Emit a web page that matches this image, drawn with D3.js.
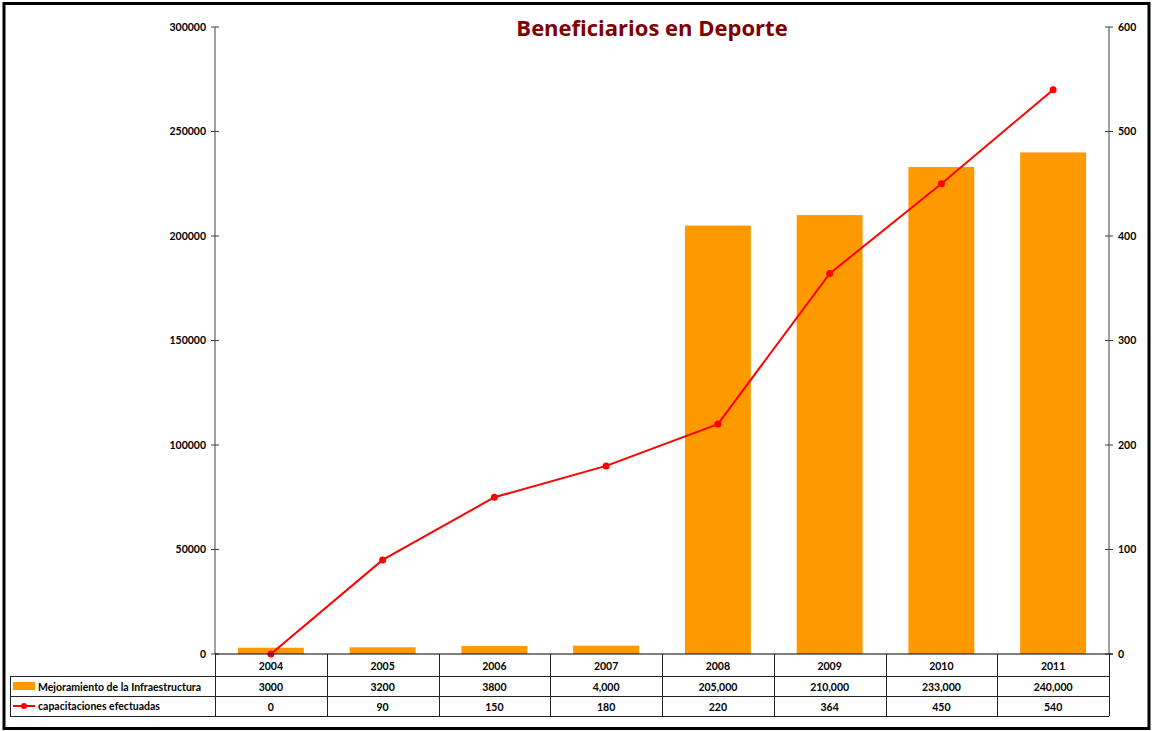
<!DOCTYPE html>
<html>
<head>
<meta charset="utf-8">
<script src="https://cdn.jsdelivr.net/npm/d3@7"></script>
<style>
  body { margin: 0; background: #fff; }
  svg text { font-family: Lato, "Open Sans", sans-serif; font-weight: bold; }
  svg text.title { font-family: "Open Sans", "Noto Sans", sans-serif; }
</style>
</head>
<body>
<svg id="chart"></svg>
<script>
// Data
const years = ["2004", "2005", "2006", "2007", "2008", "2009", "2010", "2011"];
const infraestructura = [3000, 3200, 3800, 4000, 205000, 210000, 233000, 240000];
const capacitaciones = [0, 90, 150, 180, 220, 364, 450, 540];
const infraLabels = ["3000", "3200", "3800", "4,000", "205,000", "210,000", "233,000", "240,000"];
const capLabels = ["0", "90", "150", "180", "220", "364", "450", "540"];
const leftTicks = [0, 50000, 100000, 150000, 200000, 250000, 300000];
const rightTicks = [0, 100, 200, 300, 400, 500, 600];

const width = 1152, height = 731;
const svg = d3.select("#chart").attr("width", width).attr("height", height);

// plot area
const plotL = 215, plotR = 1109, plotT = 27, plotB = 654;

const x = d3.scaleBand().domain(years).range([plotL, plotR]).paddingInner(0).paddingOuter(0);
const yL = d3.scaleLinear().domain([0, 300000]).range([plotB, plotT]);
const yR = d3.scaleLinear().domain([0, 600]).range([plotB, plotT]);

// outer frame
svg.append("rect")
  .attr("x", 4).attr("y", 3.5)
  .attr("width", width - 7).attr("height", height - 6)
  .style("fill", "none").style("stroke", "#000").style("stroke-width", 3);

// bars
const barW = x.bandwidth() * 0.59;
svg.append("g").selectAll("rect")
  .data(years)
  .enter().append("rect")
  .attr("x", (d) => x(d) + (x.bandwidth() - barW) / 2)
  .attr("y", (d, i) => yL(infraestructura[i]))
  .attr("width", barW)
  .attr("height", (d, i) => plotB - yL(infraestructura[i]))
  .style("fill", "#FF9900");

// left axis
const gl = svg.append("g");
gl.append("line")
  .attr("x1", plotL).attr("x2", plotL).attr("y1", plotT).attr("y2", plotB)
  .style("stroke", "#808080").style("stroke-width", 1.5);
gl.selectAll(".tl").data(leftTicks).enter().append("line")
  .attr("x1", plotL - 4).attr("x2", plotL + 4)
  .attr("y1", (d) => yL(d)).attr("y2", (d) => yL(d))
  .style("stroke", "#404040").style("stroke-width", 1);
gl.selectAll("text").data(leftTicks).enter().append("text")
  .attr("x", plotL - 9).attr("y", (d) => yL(d)).attr("dy", "0.35em")
  .attr("text-anchor", "end").style("font-size", "10.5px")
  .text((d) => d);

// right axis
const gr = svg.append("g");
gr.append("line")
  .attr("x1", plotR).attr("x2", plotR).attr("y1", plotT).attr("y2", plotB)
  .style("stroke", "#404040").style("stroke-width", 1);
gr.selectAll(".tr").data(rightTicks).enter().append("line")
  .attr("x1", plotR - 4).attr("x2", plotR + 4)
  .attr("y1", (d) => yR(d)).attr("y2", (d) => yR(d))
  .style("stroke", "#404040").style("stroke-width", 1);
gr.selectAll("text").data(rightTicks).enter().append("text")
  .attr("x", plotR + 9).attr("y", (d) => yR(d)).attr("dy", "0.35em")
  .attr("text-anchor", "start").style("font-size", "10.5px")
  .text((d) => d);

// line series
const line = d3.line()
  .x((d, i) => x(years[i]) + x.bandwidth() / 2)
  .y((d) => yR(d));
svg.append("path")
  .datum(capacitaciones)
  .attr("d", line)
  .style("fill", "none").style("stroke", "#FF0000").style("stroke-width", 2);
svg.append("g").selectAll("circle")
  .data(capacitaciones)
  .enter().append("circle")
  .attr("cx", (d, i) => x(years[i]) + x.bandwidth() / 2)
  .attr("cy", (d) => yR(d))
  .attr("r", 3.5)
  .style("fill", "#FF0000");

// data table
const rowH = [654, 676, 696, 716];
const tableLeft = 10;
const tg = svg.append("g").style("stroke", "#222").style("stroke-width", 1);
// horizontal lines
tg.append("line").attr("x1", plotL).attr("x2", plotR + 4).attr("y1", rowH[0]).attr("y2", rowH[0])
  .style("stroke", "#000");
[1, 2, 3].forEach((r) => {
  tg.append("line").attr("x1", tableLeft).attr("x2", plotR)
    .attr("y1", rowH[r] + 0.5).attr("y2", rowH[r] + 0.5);
});
// vertical lines
years.concat(["end"]).forEach((d, i) => {
  const xx = plotL + i * x.bandwidth();
  tg.append("line").attr("x1", Math.round(xx) + 0.5).attr("x2", Math.round(xx) + 0.5)
    .attr("y1", rowH[0]).attr("y2", rowH[3]);
});
tg.append("line").attr("x1", tableLeft + 0.5).attr("x2", tableLeft + 0.5)
  .attr("y1", rowH[1]).attr("y2", rowH[3]);

const cellText = (vals, r) => {
  svg.append("g").selectAll("text").data(vals).enter().append("text")
    .attr("x", (d, i) => x(years[i]) + x.bandwidth() / 2)
    .attr("y", (rowH[r] + rowH[r + 1]) / 2 + 1)
    .attr("dy", "0.35em")
    .attr("text-anchor", "middle").style("font-size", "10.5px")
    .text((d) => d);
};
cellText(years, 0);
cellText(infraLabels, 1);
cellText(capLabels, 2);

// legend keys in table
svg.append("rect").attr("x", 13).attr("y", 682).attr("width", 22).attr("height", 8)
  .style("fill", "#FF9900");
svg.append("text").attr("x", 38).attr("y", 687).attr("dy", "0.35em")
  .style("font-size", "10.5px").text("Mejoramiento de la Infraestructura");
svg.append("line").attr("x1", 13).attr("x2", 35).attr("y1", 706).attr("y2", 706)
  .style("stroke", "#FF0000").style("stroke-width", 2);
svg.append("circle").attr("cx", 24).attr("cy", 706).attr("r", 3).style("fill", "#FF0000");
svg.append("text").attr("x", 38).attr("y", 706).attr("dy", "0.35em")
  .style("font-size", "10.5px").text("capacitaciones efectuadas");

// title
svg.append("text")
  .attr("class", "title")
  .attr("x", 652).attr("y", 36)
  .attr("text-anchor", "middle")
  .style("font-size", "22px").style("fill", "#800000")
  .text("Beneficiarios en Deporte");
</script>
</body>
</html>
